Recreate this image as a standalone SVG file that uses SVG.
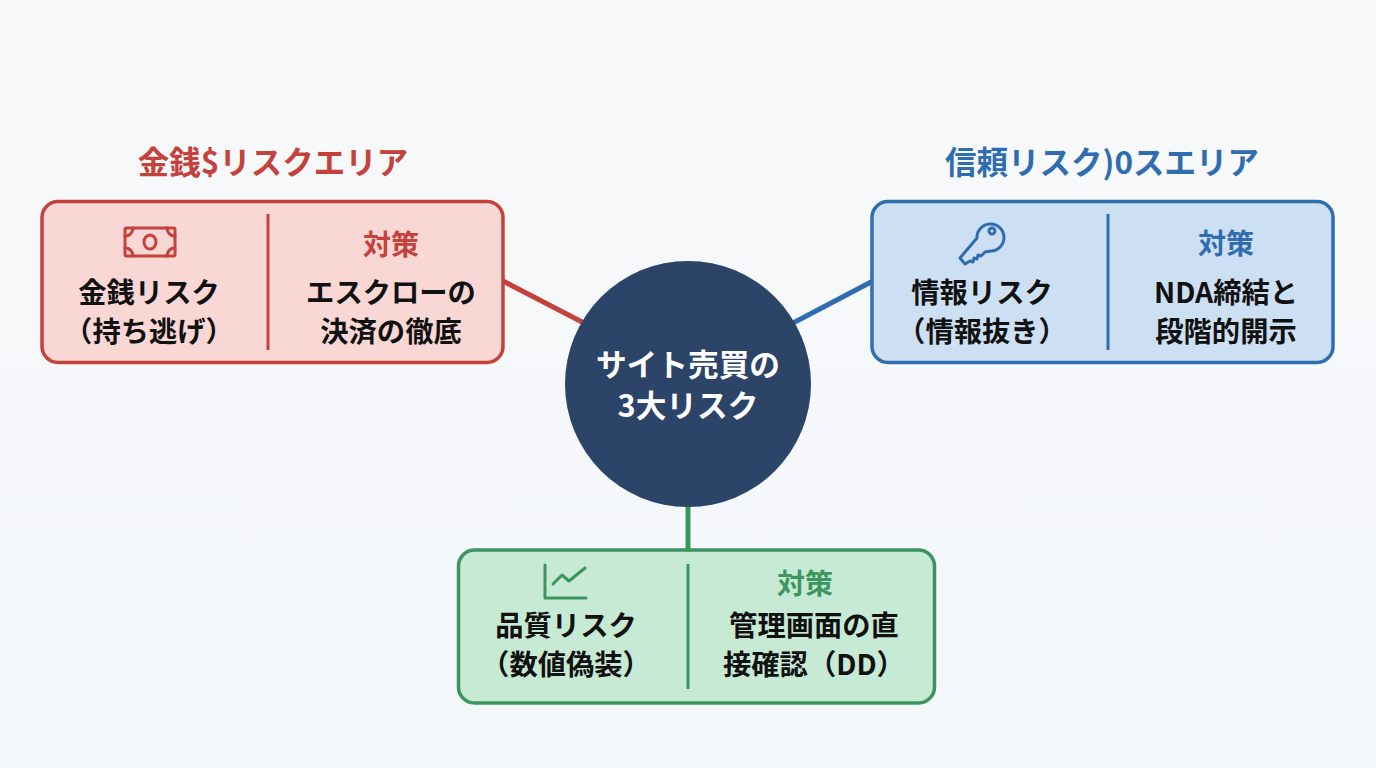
<svg xmlns="http://www.w3.org/2000/svg" width="1376" height="768" viewBox="0 0 1376 768">
<style>
text{font-family:"Noto Sans CJK JP","Noto Sans",sans-serif;font-weight:700;text-anchor:middle}
.b{font-size:28.300px;fill:#111}
.t{font-size:31.500px}
.h{font-size:28px}
.c{font-size:30.700px;fill:#fff}
.red{fill:#c4423c}.blue{fill:#2f6db0}.green{fill:#3c9560}
.box{stroke-width:3.5}
.div{stroke-width:3}
.ic{fill:none;stroke-width:3;stroke-linecap:round;stroke-linejoin:round}
</style>
<defs><linearGradient id="bg" x1="0" y1="0" x2="0" y2="1"><stop offset="0" stop-color="#f7f9fa"/><stop offset="1" stop-color="#f4f7fa"/></linearGradient></defs>
<rect width="1376" height="768" fill="url(#bg)"/>
<g id="connectors" fill="none" stroke-width="5">
<line x1="503" y1="281" x2="584" y2="323" stroke="#c4423c"/>
<line x1="873" y1="281" x2="793" y2="323" stroke="#2f6db0"/>
<line x1="688" y1="505" x2="688" y2="551" stroke="#3c9560"/>
</g>
<g id="center"><circle cx="688" cy="384" r="123" fill="#2c4468"/>
<text class="c" x="688" y="376">サイト売買の</text>
<text class="c" x="688" y="417">3大リスク</text></g>
<g id="money">
<text class="t red" x="273" y="174">金銭$リスクエリア</text>
<rect class="box" x="42" y="201.500" width="461" height="161" rx="16" fill="#f9d7d5" stroke="#c4423c"/>
<line class="div" x1="268" y1="214" x2="268" y2="350" stroke="#c4423c"/>
<g class="ic" stroke="#c4423c"><rect x="125" y="228" width="50" height="28" rx="1.500"/><ellipse cx="150" cy="242" rx="6" ry="7"/><path d="M125 236q7 0 8-8M175 236q-7 0-8-8M125 248q7 0 8 8M175 248q-7 0-8 8"/></g>
<text class="b" x="149" y="303">金銭リスク</text>
<text class="b" x="149" y="342">（持ち逃げ）</text>
<text class="h red" x="391" y="255">対策</text>
<text class="b" x="391" y="303">エスクローの</text>
<text class="b" x="391" y="342">決済の徹底</text>
</g>
<g id="trust">
<text class="t blue" x="1102" y="174">信頼リスク)0スエリア</text>
<rect class="box" x="872" y="201.500" width="461" height="161" rx="16" fill="#cddff3" stroke="#2f6db0"/>
<line class="div" x1="1108" y1="214" x2="1108" y2="350" stroke="#2f6db0"/>
<g class="ic" stroke="#2f6db0"><path d="M977 238a13.500 13.500 0 1 1 14 13l-6 1-4 4-3-1-1 4-3-1-1 4-3-1-5 3-5-6z"/><circle cx="992" cy="231" r="3"/></g>
<text class="b" x="982" y="303">情報リスク</text>
<text class="b" x="982" y="342">（情報抜き）</text>
<text class="h blue" x="1226" y="254">対策</text>
<text class="b" x="1226" y="303">NDA締結と</text>
<text class="b" x="1226" y="342">段階的開示</text>
</g>
<g id="quality">
<rect class="box" x="458.500" y="550" width="476" height="153" rx="16" fill="#c7ead4" stroke="#3c9560"/>
<line class="div" x1="688" y1="564" x2="688" y2="689" stroke="#3c9560"/>
<g class="ic" stroke="#3c9560"><path d="M545 565v33h41"/><path d="M553 584l9-9 7 6 16-13"/></g>
<text class="b" x="566" y="636">品質リスク</text>
<text class="b" x="566" y="675">（数値偽装）</text>
<text class="h green" x="805" y="594">対策</text>
<text class="b" x="814" y="636">管理画面の直</text>
<text class="b" x="723" y="675" style="text-anchor:start">接確認（DD）</text>
</g>
</svg>
